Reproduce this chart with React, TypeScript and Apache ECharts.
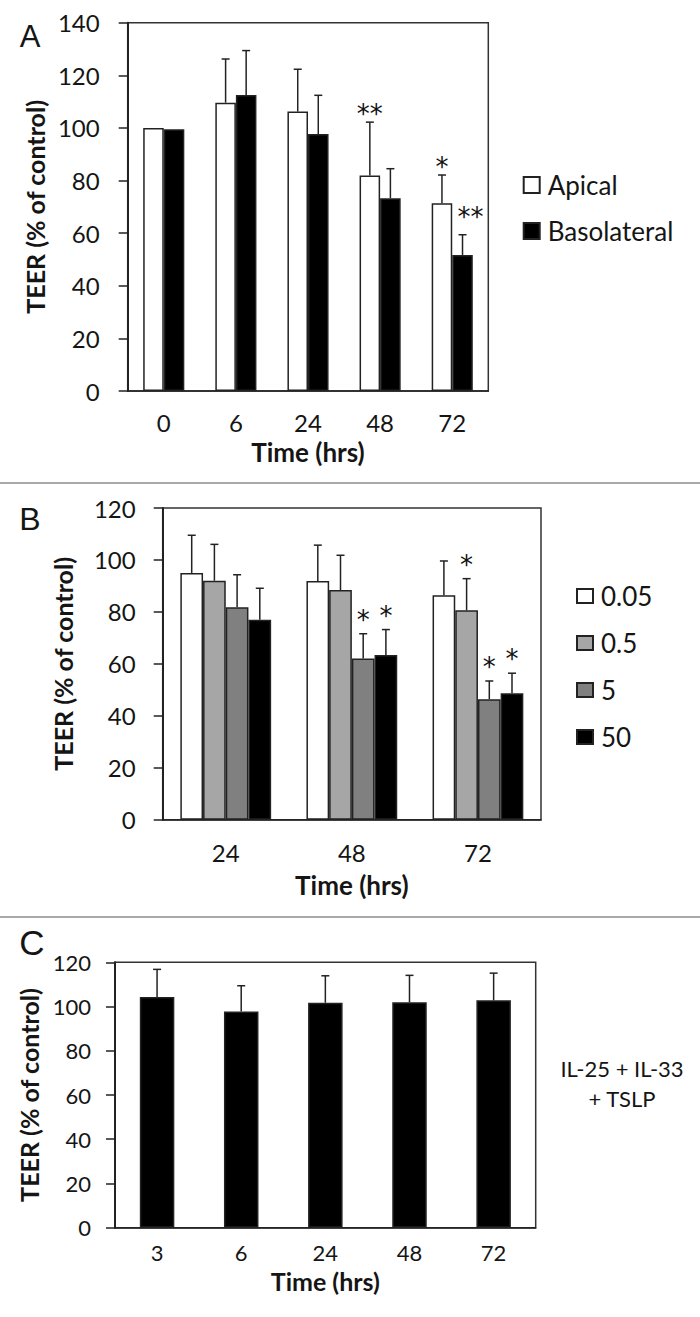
import React, { useEffect, useRef } from 'react';
import * as echarts from 'echarts';

// ---------- Panel A ----------
const TIME_A = ['0', '6', '24', '48', '72'];
const APICAL = [100, 109.6, 106.2, 81.9, 71.4];
const APICAL_ERR = [0, 16.6, 16.1, 20.3, 10.7];
const APICAL_STARS = ['', '', '', '**', '*'];
const BASO = [99.5, 112.5, 97.7, 73.3, 51.7];
const BASO_ERR = [0, 16.9, 14.7, 11.2, 7.7];
const BASO_STARS = ['', '', '', '', '**'];
const TICKS_A = { min: 0, max: 140, interval: 20 };

// ---------- Panel B ----------
const TIME_B = ['24', '48', '72'];
const DOSE_NAMES = ['0.05', '0.5', '5', '50'];
const DOSE_005 = [95.0, 91.9, 86.4];
const DOSE_005_ERR = [14.5, 13.8, 13.2];
const DOSE_005_STARS = ['', '', ''];
const DOSE_05 = [92.0, 88.4, 80.6];
const DOSE_05_ERR = [14.0, 13.4, 12.2];
const DOSE_05_STARS = ['', '', '*'];
const DOSE_5 = [81.8, 62.1, 46.4];
const DOSE_5_ERR = [12.5, 9.5, 7.0];
const DOSE_5_STARS = ['', '*', '*'];
const DOSE_50 = [77.0, 63.4, 48.7];
const DOSE_50_ERR = [12.1, 9.8, 7.7];
const DOSE_50_STARS = ['', '*', '*'];
const TICKS_B = { min: 0, max: 120, interval: 20 };

// ---------- Panel C ----------
const TIME_C = ['3', '6', '24', '48', '72'];
const COMBO = [104.3, 97.7, 101.7, 101.9, 102.8];
const COMBO_ERR = [12.5, 11.7, 12.2, 12.2, 12.3];
const COMBO_STARS = ['', '', '', '', ''];
const TICKS_C = { min: 0, max: 120, interval: 20 };

const FONT = 'Lato, "Noto Sans", sans-serif';
const INK = '#151515';
const EDGE = '#222';

type Nudge = Record<number, [number, number]>;

function errorSeries(
  axis: number,
  values: number[],
  errs: number[],
  stars: string[],
  idx: number,
  count: number,
  catGap: number,
  starLift: number,
  nudge: Nudge = {}
) {
  return {
    type: 'custom',
    xAxisIndex: axis,
    yAxisIndex: axis,
    z: 5,
    silent: true,
    clip: false,
    data: values.map((v, i) => [i, v, v + errs[i]]),
    encode: { x: 0, y: [1, 2] },
    renderItem: (params: any, api: any) => {
      const i = api.value(0);
      const v = api.value(1);
      const top = api.value(2);
      const band = api.size([1, 0])[0];
      const total = band * (1 - catGap);
      const bw = total / count;
      const base = api.coord([i, v]);
      const tp = api.coord([i, top]);
      const x = base[0] - total / 2 + bw * (idx + 0.5);
      const children: any[] = [];
      if (top > v) {
        children.push({
          type: 'line',
          shape: { x1: x, y1: base[1], x2: x, y2: tp[1] },
          style: { stroke: EDGE, lineWidth: 1.5 },
        });
        children.push({
          type: 'line',
          shape: { x1: x - 4, y1: tp[1], x2: x + 4, y2: tp[1] },
          style: { stroke: EDGE, lineWidth: 1.5 },
        });
      }
      const s = stars[params.dataIndex];
      if (s) {
        const n = nudge[params.dataIndex] || [0, 0];
        children.push({
          type: 'text',
          x: x + n[0],
          y: tp[1] - starLift + n[1],
          style: {
            text: s,
            fill: '#111111',
            font: '26px "DejaVu Sans"',
            align: 'center',
            verticalAlign: 'middle',
          },
        });
      }
      return { type: 'group', children };
    },
  };
}

function yAxisCfg(grid: number, ticks: any, nameGap: number, margin: number, fontSize: number) {
  return {
    type: 'value',
    gridIndex: grid,
    min: ticks.min,
    max: ticks.max,
    interval: ticks.interval,
    name: 'TEER (% of control)',
    nameLocation: 'middle',
    nameGap,
    nameTextStyle: { fontFamily: FONT, fontWeight: 'bold', fontSize: 25, color: INK },
    axisLine: { show: true, lineStyle: { color: EDGE, width: 2 } },
    axisTick: { show: true, inside: false, length: 9, lineStyle: { color: EDGE, width: 1.5 } },
    axisLabel: { fontFamily: FONT, fontSize, color: INK, margin },
    splitLine: { show: false },
  };
}

function xAxisCfg(grid: number, cats: string[], nameGap: number, margin: number, fontSize: number, nameSize: number) {
  return {
    type: 'category',
    gridIndex: grid,
    data: cats,
    name: 'Time (hrs)',
    nameLocation: 'middle',
    nameGap,
    nameTextStyle: { fontFamily: FONT, fontWeight: 'bold', fontSize: nameSize, color: INK, lineHeight: nameSize },
    axisLine: { show: true, lineStyle: { color: EDGE, width: 1.5 } },
    axisTick: { show: false },
    axisLabel: { fontFamily: FONT, fontSize, color: INK, margin, lineHeight: fontSize },
    splitLine: { show: false },
  };
}

const GAP_A = 0.43;
const GAP_B = 0.28;
const GAP_C = 0.59;

export default function App() {
  const ref = useRef<HTMLDivElement>(null);
  useEffect(() => {
    document.body.style.margin = '0';
    if (!ref.current) return;
    const chart = echarts.init(ref.current, null, { renderer: 'svg' });
    const barBase = { type: 'bar', barGap: '0%', itemStyle: { borderColor: EDGE, borderWidth: 1.5 } };
    const legendText = { fontFamily: FONT, fontSize: 26, color: INK, lineHeight: 26, padding: [0, 0, 0, 3] };
    const option: any = {
      animation: false,
      backgroundColor: '#fff',
      grid: [
        { left: 127.7, top: 22.7, width: 360.6, height: 368.3, show: true, borderColor: '#333', borderWidth: 1.5, backgroundColor: 'transparent' },
        { left: 162.7, top: 508, width: 378.3, height: 311.7, show: true, borderColor: '#333', borderWidth: 1.5, backgroundColor: 'transparent' },
        { left: 115, top: 962.3, width: 420.7, height: 265.4, show: true, borderColor: '#333', borderWidth: 1.5, backgroundColor: 'transparent' },
      ],
      xAxis: [
        xAxisCfg(0, TIME_A, 48, 19, 24, 26),
        xAxisCfg(1, TIME_B, 52, 21, 24, 26),
        xAxisCfg(2, TIME_C, 41, 14, 22, 25),
      ],
      yAxis: [
        yAxisCfg(0, TICKS_A, 79, 28, 24),
        yAxisCfg(1, TICKS_B, 87, 27, 24),
        yAxisCfg(2, TICKS_C, 74, 24, 22),
      ],
      legend: [
        {
          data: ['Apical', 'Basolateral'],
          orient: 'vertical',
          left: 522.7,
          top: 172,
          padding: 0,
          itemWidth: 16,
          itemHeight: 16,
          itemGap: 20,
          icon: 'rect',
          selectedMode: false,
          textStyle: legendText,
        },
        {
          data: DOSE_NAMES,
          orient: 'vertical',
          left: 576,
          top: 583,
          padding: 0,
          itemWidth: 16,
          itemHeight: 14,
          itemGap: 21,
          icon: 'rect',
          selectedMode: false,
          textStyle: legendText,
        },
      ],
      graphic: [
        { type: 'line', shape: { x1: 0, y1: 483, x2: 700, y2: 483 }, style: { stroke: '#8c8c8c', lineWidth: 1.5 } },
        { type: 'line', shape: { x1: 0, y1: 917, x2: 700, y2: 917 }, style: { stroke: '#8c8c8c', lineWidth: 1.5 } },
        { type: 'text', x: 30, y: 36, style: { text: 'A', font: '31px "Liberation Sans"', fill: INK, align: 'center', verticalAlign: 'middle' } },
        { type: 'text', x: 30, y: 519, style: { text: 'B', font: '32px "Liberation Sans"', fill: INK, align: 'center', verticalAlign: 'middle' } },
        { type: 'text', x: 32, y: 942, style: { text: 'C', font: '35px "Liberation Sans"', fill: INK, align: 'center', verticalAlign: 'middle' } },
        {
          type: 'text',
          x: 622,
          y: 1083,
          style: {
            text: 'IL-25 + IL-33\n+ TSLP',
            font: '22px Lato',
            lineHeight: 30,
            fill: INK,
            align: 'center',
            verticalAlign: 'middle',
          },
        },
      ],
      series: [
        { ...barBase, name: 'Apical', xAxisIndex: 0, yAxisIndex: 0, barCategoryGap: GAP_A * 100 + '%', data: APICAL, itemStyle: { ...barBase.itemStyle, color: '#ffffff' } },
        { ...barBase, name: 'Basolateral', xAxisIndex: 0, yAxisIndex: 0, barCategoryGap: GAP_A * 100 + '%', data: BASO, itemStyle: { ...barBase.itemStyle, color: '#000000' } },
        errorSeries(0, APICAL, APICAL_ERR, APICAL_STARS, 0, 2, GAP_A, 8),
        errorSeries(0, BASO, BASO_ERR, BASO_STARS, 1, 2, GAP_A, 8, { 4: [8, -10] }),

        { ...barBase, name: DOSE_NAMES[0], xAxisIndex: 1, yAxisIndex: 1, barCategoryGap: GAP_B * 100 + '%', data: DOSE_005, itemStyle: { ...barBase.itemStyle, color: '#ffffff' } },
        { ...barBase, name: DOSE_NAMES[1], xAxisIndex: 1, yAxisIndex: 1, barCategoryGap: GAP_B * 100 + '%', data: DOSE_05, itemStyle: { ...barBase.itemStyle, color: '#a6a6a6' } },
        { ...barBase, name: DOSE_NAMES[2], xAxisIndex: 1, yAxisIndex: 1, barCategoryGap: GAP_B * 100 + '%', data: DOSE_5, itemStyle: { ...barBase.itemStyle, color: '#808080' } },
        { ...barBase, name: DOSE_NAMES[3], xAxisIndex: 1, yAxisIndex: 1, barCategoryGap: GAP_B * 100 + '%', data: DOSE_50, itemStyle: { ...barBase.itemStyle, color: '#000000' } },
        errorSeries(1, DOSE_005, DOSE_005_ERR, DOSE_005_STARS, 0, 4, GAP_B, 14),
        errorSeries(1, DOSE_05, DOSE_05_ERR, DOSE_05_STARS, 1, 4, GAP_B, 14),
        errorSeries(1, DOSE_5, DOSE_5_ERR, DOSE_5_STARS, 2, 4, GAP_B, 14),
        errorSeries(1, DOSE_50, DOSE_50_ERR, DOSE_50_STARS, 3, 4, GAP_B, 14),

        { ...barBase, name: 'IL-25 + IL-33 + TSLP', xAxisIndex: 2, yAxisIndex: 2, barCategoryGap: GAP_C * 100 + '%', data: COMBO, itemStyle: { ...barBase.itemStyle, color: '#000000' } },
        errorSeries(2, COMBO, COMBO_ERR, COMBO_STARS, 0, 1, GAP_C, 14),
      ],
    };
    chart.setOption(option);
    return () => chart.dispose();
  }, []);
  return <div ref={ref} style={{ width: 700, height: 1317 }} />;
}
